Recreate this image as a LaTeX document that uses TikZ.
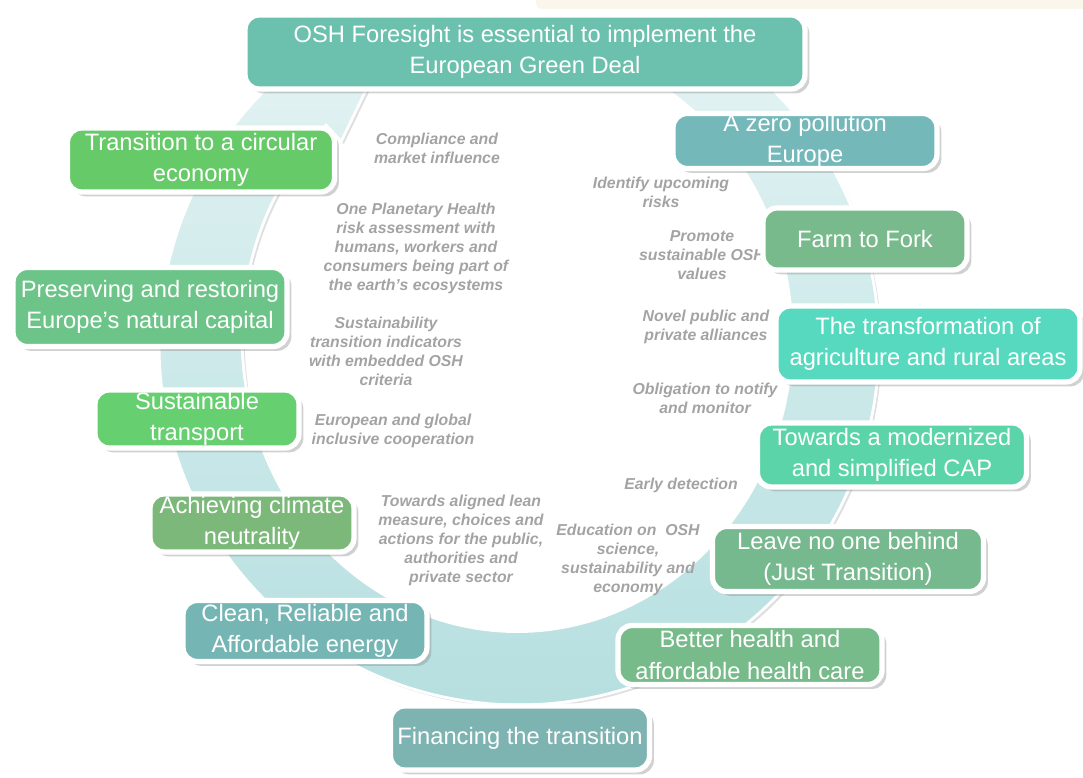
\documentclass[tikz,border=0pt]{standalone}
\usepackage{fontspec}
\setmainfont{Liberation Sans}
\usepackage{tikz}
\usetikzlibrary{shadows}
\definecolor{ringtop}{HTML}{E4F3F3}
\definecolor{ringmid}{HTML}{B0DADB}
\definecolor{ringbot}{HTML}{B6DFE0}
\definecolor{beige}{HTML}{FBF6EC}
\definecolor{notegray}{HTML}{A3A3A3}
\definecolor{cTop}{HTML}{6CC1AE}
\definecolor{cCirc}{HTML}{66CA68}
\definecolor{cNat}{HTML}{6DC488}
\definecolor{cTransp}{HTML}{66CF70}
\definecolor{cClim}{HTML}{7BB87A}
\definecolor{cEnergy}{HTML}{75B6B5}
\definecolor{cFin}{HTML}{7DB3B1}
\definecolor{cHealth}{HTML}{77BB8A}
\definecolor{cLeave}{HTML}{77B98F}
\definecolor{cCap}{HTML}{5CD4A9}
\definecolor{cAgri}{HTML}{57D9BF}
\definecolor{cFarm}{HTML}{78BA8C}
\definecolor{cZero}{HTML}{74B8BA}

\begin{document}
\begin{tikzpicture}[x=0.02cm, y=-0.02cm,
  goal/.style={draw=white, line width=3pt, rounded corners=8pt, text=white, align=center, inner sep=0pt,
    font=\fontsize{13.5}{18}\selectfont,
    drop shadow={shadow xshift=2.5pt, shadow yshift=-2.5pt, opacity=0.4, fill=black!45}},
  note/.style={text=notegray, align=center, inner sep=0pt, font=\fontsize{9}{10.8}\selectfont\bfseries\itshape},
  ring/.style={draw=white, line width=1.6pt, top color=ringtop, middle color=ringmid, bottom color=ringbot,
    drop shadow={shadow xshift=1.5pt, shadow yshift=-1.5pt, opacity=0.25, fill=black!50}}]
\useasboundingbox (0,0) rectangle (1083,778);
\fill[beige, rounded corners=3pt] (536,-5) rectangle (1088,9);
\path[ring] plot[domain=-62:226, samples=150] ({519+360*cos(\x)}, {345+360*sin(\x)})
  -- ({519+382*cos(226)}, {345+382*sin(226)})
  -- ({518+317*cos(246)}, {341+327*sin(246)})
  -- ({517+253*cos(226)}, {337+272*sin(226)})
  -- plot[domain=226:-62, samples=150] ({517+275*cos(\x)}, {337+294.6*sin(\x)}) -- cycle;

\node[note] (comp) at (437,148) {Compliance and\\market influence};
\node[note] (planet) at (416,248) {One Planetary Health\\risk assessment with\\humans, workers and\\consumers being part of\\the earth’s ecosystems};
\node[note] (indic) at (386,351) {Sustainability\\transition indicators\\with embedded OSH\\criteria};
\node[note] (coop) at (393,431) {European and global\\inclusive cooperation};
\node[note] (lean) at (461,540) {Towards aligned lean\\measure, choices and\\actions for the public,\\authorities and\\private sector};
\node[note] (risks) at (661,192) {Identify upcoming\\risks};
\node[note] (values) at (702,255) {Promote\\sustainable OSH\\values};
\node[note] (alli) at (706,327) {Novel public and\\private alliances};
\node[note] (notify) at (705,398) {Obligation to notify\\and monitor};
\node[note] (early) at (681,485) {Early detection};
\node[note] (edu) at (628,560) {Education on\ \ OSH\\science,\\sustainability and\\economy};

\node[goal, fill=cTop, minimum width=11.2cm, minimum height=1.48cm] (top) at (525,52) {OSH Foresight is essential to implement the\\European Green Deal};
\node[goal, fill=cZero, minimum width=5.28cm, minimum height=1.1cm] (zero) at (805,141) {A zero pollution\\Europe};
\node[goal, fill=cFarm, minimum width=4.08cm, minimum height=1.24cm] (farm) at (865,239) {Farm to Fork};
\node[goal, fill=cAgri, minimum width=6.08cm, minimum height=1.52cm] (agri) at (928,344) {The transformation of\\agriculture and rural areas};
\node[goal, fill=cCap, minimum width=5.38cm, minimum height=1.28cm] (cap) at (892,455) {Towards a modernized\\and simplified CAP};
\node[goal, fill=cLeave, minimum width=5.42cm, minimum height=1.3cm] (leave) at (848,559) {Leave no one behind\\(Just Transition)};
\node[goal, fill=cHealth, minimum width=5.28cm, minimum height=1.18cm] (health) at (750,655) {Better health and\\affordable health care};
\node[goal, fill=cFin, minimum width=5.18cm, minimum height=1.28cm] (fin) at (520,738) {Financing the transition};
\node[goal, fill=cEnergy, minimum width=4.88cm, minimum height=1.22cm] (energy) at (305,631) {Clean, Reliable and\\Affordable energy};
\node[goal, fill=cClim, minimum width=4.08cm, minimum height=1.16cm] (clim) at (252,523) {Achieving climate\\neutrality};
\node[goal, fill=cTransp, minimum width=4.08cm, minimum height=1.16cm] (transp) at (197,419) {Sustainable\\transport};
\node[goal, fill=cNat, minimum width=5.48cm, minimum height=1.58cm] (nat) at (150,307) {Preserving and restoring\\Europe’s natural capital};
\node[goal, fill=cCirc, minimum width=5.34cm, minimum height=1.28cm] (circ) at (201,160) {Transition to a circular\\economy};
\end{tikzpicture}
\end{document}
